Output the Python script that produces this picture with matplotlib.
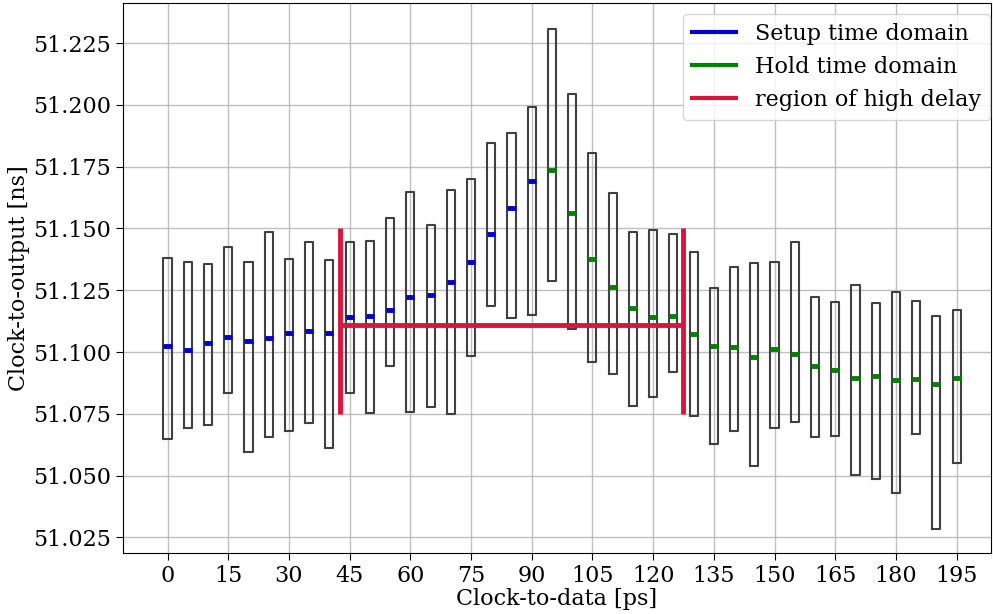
import numpy as np
import matplotlib
matplotlib.use("Agg")
import matplotlib.pyplot as plt
from matplotlib.lines import Line2D

# data
clk_data = list(range(0, 200, 5))
box_top = [51.1382, 51.1366, 51.1355, 51.1425, 51.1366, 51.1487, 51.1378, 51.1447,
           51.1372, 51.1447, 51.1450, 51.1544, 51.1646, 51.1513, 51.1655, 51.1699,
           51.1846, 51.1888, 51.1993, 51.2306, 51.2042, 51.1806, 51.1644, 51.1487,
           51.1493, 51.1477, 51.1404, 51.1258, 51.1345, 51.1359, 51.1363, 51.1447,
           51.1221, 51.1203, 51.1271, 51.1198, 51.1244, 51.1206, 51.1146, 51.1172]
box_bottom = [51.0650, 51.0693, 51.0703, 51.0834, 51.0596, 51.0655, 51.0680, 51.0714,
              51.0612, 51.0836, 51.0752, 51.0942, 51.0758, 51.0779, 51.0751, 51.0983,
              51.1187, 51.1138, 51.1148, 51.1288, 51.1095, 51.0961, 51.0913, 51.0781,
              51.0820, 51.0919, 51.0740, 51.0627, 51.0681, 51.0540, 51.0691, 51.0717,
              51.0658, 51.0660, 51.0501, 51.0485, 51.0430, 51.0668, 51.0286, 51.0552]
box_median = [51.1024, 51.1009, 51.1035, 51.1060, 51.1043, 51.1055, 51.1079, 51.1085,
              51.1078, 51.1143, 51.1146, 51.1172, 51.1222, 51.1229, 51.1283, 51.1363,
              51.1476, 51.1584, 51.1693, 51.1737, 51.1564, 51.1376, 51.1265, 51.1179,
              51.1143, 51.1147, 51.1074, 51.1023, 51.1020, 51.0980, 51.1011, 51.0993,
              51.0945, 51.0929, 51.0896, 51.0902, 51.0888, 51.0890, 51.0870, 51.0896]
setup_limit = 90  # medians up to here are setup domain
region_x = [42.5, 127.5]
region_y = [51.075, 51.150]
region_level = 51.111

plt.rcParams['font.family'] = 'DejaVu Serif'
plt.rcParams['font.size'] = 16

fig = plt.figure(figsize=(9.93, 6.14), dpi=100)
ax = fig.add_axes([0.1239, 0.0993, 0.8741, 0.8958])

stats = []
for t, b, m in zip(box_top, box_bottom, box_median):
    stats.append({'med': m, 'q1': b, 'q3': t, 'whislo': b, 'whishi': t, 'fliers': []})

bp = ax.bxp(stats, positions=clk_data, widths=2.0, showcaps=False, showfliers=False,
            boxprops=dict(color='#404040', linewidth=1.5),
            whiskerprops=dict(linewidth=0),
            medianprops=dict(linewidth=3.5), manage_ticks=False)

for x, med in zip(clk_data, bp['medians']):
    med.set_color('#0000cc' if x <= setup_limit else 'green')
    med.set_zorder(4)

# region of high delay
ax.vlines(region_x, region_y[0], region_y[1], color='crimson', linewidth=3.5, zorder=5)
ax.hlines(region_level, region_x[0], region_x[1], color='crimson', linewidth=3.5, zorder=5)

ax.set_xlim(-11, 203.5)
ax.set_ylim(51.0187, 51.2412)
ax.set_xticks(range(0, 200, 15))
ax.set_yticks(np.arange(51.025, 51.226, 0.025))
ax.yaxis.set_major_formatter(matplotlib.ticker.FormatStrFormatter('%.3f'))
ax.grid(True, color='#b0b0b0', linewidth=1, alpha=0.8)
ax.set_axisbelow(True)
ax.tick_params(length=5)

ax.set_xlabel('Clock-to-data [ps]', labelpad=1)
ax.set_ylabel('Clock-to-output [ns]', labelpad=2)

handles = [Line2D([], [], color='#0000cc', lw=3),
           Line2D([], [], color='green', lw=3),
           Line2D([], [], color='crimson', lw=3)]
ax.legend(handles, ['Setup time domain', 'Hold time domain', 'region of high delay'],
          loc='upper right', bbox_to_anchor=(0.999, 0.98), borderaxespad=0,
          fontsize=16, handlelength=2.0, handletextpad=0.85)

fig.savefig('out.png', dpi=100)
